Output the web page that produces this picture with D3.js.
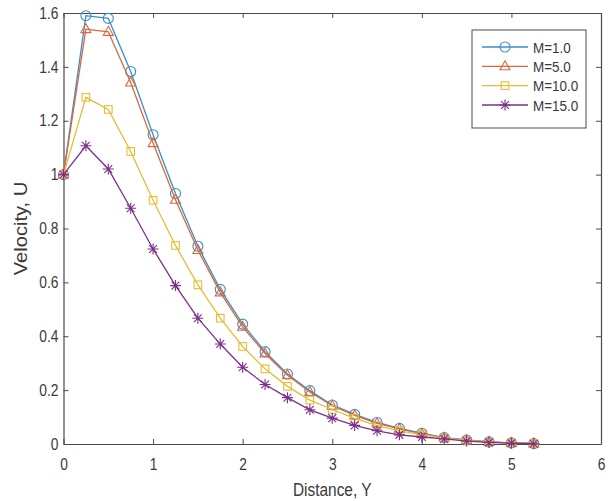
<!DOCTYPE html>
<html>
<head>
<meta charset="utf-8">
<script src="https://cdn.jsdelivr.net/npm/d3@7"></script>
<style>
  html, body { margin: 0; padding: 0; background: #fff; }
  svg { display: block; font-family: "Liberation Sans", Arial, sans-serif; }
</style>
</head>
<body>
<svg id="chart" width="615" height="501"></svg>
<script>
// Distance along the boundary layer
const distance = [0, 0.25, 0.5, 0.75, 1.0, 1.25, 1.5, 1.75, 2.0, 2.25, 2.5,
                  2.75, 3.0, 3.25, 3.5, 3.75, 4.0, 4.25, 4.5, 4.75, 5.0, 5.25];

// Velocity profiles for each magnetic parameter M
const velM1  = [1.0, 1.59, 1.58, 1.383, 1.148, 0.93, 0.734, 0.574, 0.445, 0.343, 0.26,
                0.198, 0.145, 0.11, 0.08, 0.058, 0.04, 0.024, 0.015, 0.008, 0.004, 0.002];
const velM5  = [1.0, 1.54, 1.53, 1.342, 1.117, 0.907, 0.72, 0.563, 0.435, 0.336, 0.255,
                0.193, 0.142, 0.106, 0.077, 0.056, 0.038, 0.023, 0.014, 0.008, 0.004, 0.002];
const velM10 = [1.0, 1.287, 1.242, 1.086, 0.905, 0.737, 0.591, 0.467, 0.362, 0.279, 0.214,
                0.163, 0.128, 0.095, 0.068, 0.049, 0.035, 0.022, 0.013, 0.007, 0.004, 0.002];
const velM15 = [1.0, 1.107, 1.021, 0.875, 0.724, 0.588, 0.467, 0.371, 0.285, 0.221, 0.172,
                0.127, 0.096, 0.069, 0.049, 0.034, 0.026, 0.019, 0.011, 0.006, 0.003, 0.001];

const seriesNames = ["M=1.0", "M=5.0", "M=10.0", "M=15.0"];
const xTicks = [0, 1, 2, 3, 4, 5, 6];
const yTicks = [0, 0.2, 0.4, 0.6, 0.8, 1.0, 1.2, 1.4, 1.6];

const series = [
  { name: seriesNames[0], values: velM1,  color: "#3b8fc8", marker: "circle" },
  { name: seriesNames[1], values: velM5,  color: "#d9683c", marker: "triangle" },
  { name: seriesNames[2], values: velM10, color: "#e6bd35", marker: "square" },
  { name: seriesNames[3], values: velM15, color: "#7e2f8e", marker: "asterisk" }
];

const svg = d3.select("#chart");
const margin = { left: 63.5, top: 13, right: 14, bottom: 57 };
const W = 615 - margin.left - margin.right;
const H = 501 - margin.top - margin.bottom;

const x = d3.scaleLinear().domain([0, 6]).range([0, W]);
const y = d3.scaleLinear().domain([0, 1.6]).range([H, 0]);

const g = svg.append("g").attr("transform", `translate(${margin.left},${margin.top})`);

const axisColor = "#4a4a4a";
const textColor = "#3a3a3a";

// Narrow the glyphs a little so the labels keep a condensed look
function condense(sel, k) {
  sel.each(function () {
    const len = this.getComputedTextLength();
    d3.select(this).attr("textLength", len * k).attr("lengthAdjust", "spacingAndGlyphs");
  });
}

// Axes: ticks point inward on every side of the box
const fmtY = d => (d === 0 ? "0" : d3.format(".1f")(d).replace(/\.0$/, ""));
const gx = g.append("g").attr("transform", `translate(0,${H})`)
  .call(d3.axisBottom(x).tickValues(xTicks).tickSizeInner(-5).tickSizeOuter(0).tickFormat(d3.format("d")));
const gy = g.append("g")
  .call(d3.axisLeft(y).tickValues(yTicks).tickSizeInner(-5).tickSizeOuter(0).tickFormat(fmtY));
const gxt = g.append("g")
  .call(d3.axisTop(x).tickValues(xTicks).tickSizeInner(-5).tickSizeOuter(0).tickFormat(""));
const gyr = g.append("g").attr("transform", `translate(${W},0)`)
  .call(d3.axisRight(y).tickValues(yTicks).tickSizeInner(-5).tickSizeOuter(0).tickFormat(""));

[gx, gy, gxt, gyr].forEach(a => {
  a.select(".domain").attr("stroke", axisColor).attr("stroke-width", 1.2);
  a.selectAll(".tick line").attr("stroke", axisColor).attr("stroke-width", 1);
  a.selectAll(".tick text").attr("fill", textColor).attr("font-size", 16)
    .attr("font-family", "\"Liberation Sans\", Arial, sans-serif");
});
gx.selectAll(".tick text").attr("dy", "0").attr("y", 25.5);
gy.selectAll(".tick text").attr("x", -5);
condense(gx.selectAll(".tick text"), 0.86);
condense(gy.selectAll(".tick text"), 0.86);

// Axis titles
const xt = svg.append("text")
  .attr("x", margin.left + W / 2).attr("y", 496)
  .attr("text-anchor", "middle").attr("font-size", 17.5).attr("fill", textColor)
  .text("Distance, Y");
condense(xt, 0.88);

const yt = svg.append("text")
  .attr("transform", `translate(27,${margin.top + H / 2}) rotate(-90)`)
  .attr("text-anchor", "middle").attr("font-size", 17.5).attr("fill", textColor)
  .text("Velocity, U");
condense(yt, 1.15);

// Marker shapes drawn around (0,0)
function drawMarker(sel, type, color) {
  if (type === "circle") {
    sel.append("circle").attr("r", 5);
  } else if (type === "triangle") {
    sel.append("path").attr("d", "M0,-5.5L5,3.5L-5,3.5Z");
  } else if (type === "square") {
    sel.append("rect").attr("x", -3.8).attr("y", -3.8).attr("width", 7.6).attr("height", 7.6);
  } else {
    sel.append("path").attr("d", "M0,-5.5V5.5M-5.5,0H5.5M-3.9,-3.9L3.9,3.9M-3.9,3.9L3.9,-3.9");
  }
  sel.selectAll("*").attr("fill", "none").attr("stroke", color).attr("stroke-width", 1.1);
}

const line = d3.line().x(d => x(d[0])).y(d => y(d[1]));

series.forEach(s => {
  const pts = distance.map((d, i) => [d, s.values[i]]);
  g.append("path").datum(pts)
    .attr("d", line).attr("fill", "none")
    .attr("stroke", s.color).attr("stroke-width", 1.3);
  const m = g.append("g").selectAll("g").data(pts).join("g")
    .attr("transform", d => `translate(${x(d[0])},${y(d[1])})`);
  m.each(function () { drawMarker(d3.select(this), s.marker, s.color); });
});

// Legend
const lg = svg.append("g").attr("transform", "translate(472,30)");
lg.append("rect").attr("width", 114).attr("height", 98)
  .attr("fill", "#fff").attr("stroke", axisColor).attr("stroke-width", 1);
const rowY = [17, 36.3, 55.6, 75];
series.forEach((s, i) => {
  const row = lg.append("g").attr("transform", `translate(0,${rowY[i]})`);
  row.append("line").attr("x1", 10).attr("x2", 56).attr("y1", 0).attr("y2", 0)
    .attr("stroke", s.color).attr("stroke-width", 1.3);
  const mk = row.append("g").attr("transform", "translate(33,0)");
  drawMarker(mk, s.marker, s.color);
  const t = row.append("text").attr("x", 61).attr("y", 0).attr("dy", "0.36em")
    .attr("font-size", 15.5).attr("fill", textColor).text(s.name);
  condense(t, 0.87);
});
</script>
</body>
</html>
